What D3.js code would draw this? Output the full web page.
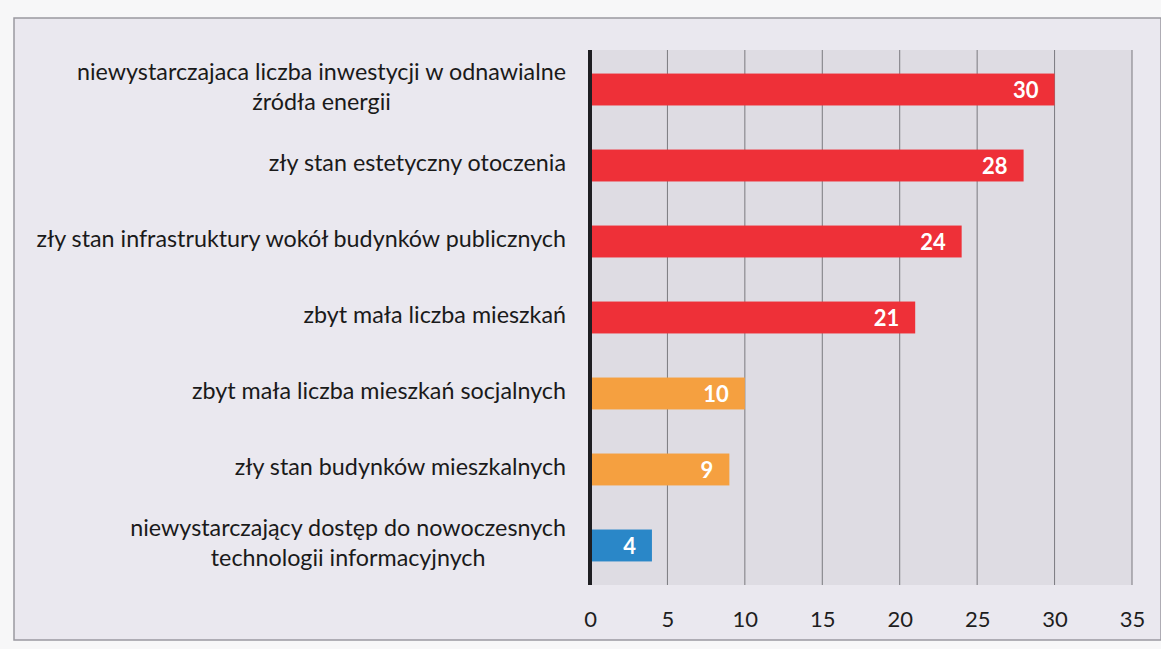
<!DOCTYPE html>
<html>
<head>
<meta charset="utf-8">
<script src="https://cdn.jsdelivr.net/npm/d3@7"></script>
<style>
  html, body { margin: 0; padding: 0; background: #f7f7f8; }
  svg { display: block; font-family: Lato, "Open Sans", sans-serif; }
</style>
</head>
<body>
<svg id="chart" width="1161" height="649"></svg>
<script>
const categories = [
  ["niewystarczajaca liczba inwestycji w odnawialne", "źródła energii"],
  ["zły stan estetyczny otoczenia"],
  ["zły stan infrastruktury wokół budynków publicznych"],
  ["zbyt mała liczba mieszkań"],
  ["zbyt mała liczba mieszkań socjalnych"],
  ["zły stan budynków mieszkalnych"],
  ["niewystarczający dostęp do nowoczesnych", "technologii informacyjnych"]
];
const values = [30, 28, 24, 21, 10, 9, 4];
const barColors = ["#ee3038", "#ee3038", "#ee3038", "#ee3038", "#f5a040", "#f5a040", "#2a87c8"];
const xTicks = [0, 5, 10, 15, 20, 25, 30, 35];

const svg = d3.select("#chart");
const width = +svg.attr("width"), height = +svg.attr("height");

// page background / scan frame
svg.append("rect").attr("x", 0).attr("y", 0).attr("width", width).attr("height", height).attr("fill", "#f7f7f8");
svg.append("rect").attr("x", 14).attr("y", 18).attr("width", width - 14).attr("height", 622)
  .attr("fill", "#eae8ef").attr("stroke", "#9a99a0").attr("stroke-width", 1.5);

const margin = {top: 50, left: 590};
const plotW = 1132 - margin.left;
const plotH = 585 - margin.top;

const g = svg.append("g").attr("transform", `translate(${margin.left},${margin.top})`);

const x = d3.scaleLinear().domain([0, 35]).range([0, plotW]);
const y = d3.scaleBand().domain(d3.range(categories.length)).range([0, plotH]).paddingInner(0.58).paddingOuter(0.31);

// plot area
g.append("rect").attr("width", plotW).attr("height", plotH).attr("fill", "#dedce3");

// grid
g.selectAll("line.grid").data(xTicks.slice(1)).enter().append("line")
  .attr("class", "grid")
  .attr("x1", d => x(d)).attr("x2", d => x(d))
  .attr("y1", 0).attr("y2", plotH)
  .attr("stroke", "#7a797f").attr("stroke-width", 1);

// bars
g.selectAll("rect.bar").data(values).enter().append("rect")
  .attr("class", "bar")
  .attr("x", 0)
  .attr("y", (d, i) => y(i))
  .attr("width", d => x(d))
  .attr("height", y.bandwidth())
  .attr("fill", (d, i) => barColors[i]);

// value labels
g.selectAll("text.val").data(values).enter().append("text")
  .attr("class", "val")
  .attr("x", d => x(d) - 16)
  .attr("y", (d, i) => y(i) + y.bandwidth() / 2)
  .attr("dy", "0.37em")
  .attr("text-anchor", "end")
  .attr("fill", "#fff")
  .attr("font-weight", "bold")
  .attr("font-size", 22)
  .text(d => d);

// axis line
g.append("line").attr("x1", 0).attr("x2", 0).attr("y1", 0).attr("y2", plotH)
  .attr("stroke", "#1e1e22").attr("stroke-width", 4);

// x tick labels
const xAxis = g.append("g").attr("transform", `translate(0,${plotH})`)
  .call(d3.axisBottom(x).tickValues(xTicks).tickSize(0).tickPadding(26));
xAxis.select(".domain").remove();
xAxis.selectAll("text").attr("font-size", 22).attr("fill", "#1e1e1e").style("font-family", "Lato, sans-serif");

// category labels
const catG = svg.append("g");
categories.forEach((lines, i) => {
  const cy = margin.top + y(i) + y.bandwidth() / 2 - 3;
  const lh = 30;
  const t = catG.append("text")
    .attr("font-size", 23.3)
    .attr("fill", "#1a1a1a")
    .attr("text-anchor", "end");
  const spans = lines.map((s, j) => t.append("tspan")
    .attr("x", 566)
    .attr("y", cy + (j - (lines.length - 1) / 2) * lh)
    .attr("dy", "0.35em")
    .text(s));
  if (lines.length > 1) {
    // centre the extra lines under the first one
    const w0 = spans[0].node().getComputedTextLength();
    const c = 566 - w0 / 2;
    spans.forEach(s => s.attr("x", c).attr("text-anchor", "middle"));
  }
});
</script>
</body>
</html>
